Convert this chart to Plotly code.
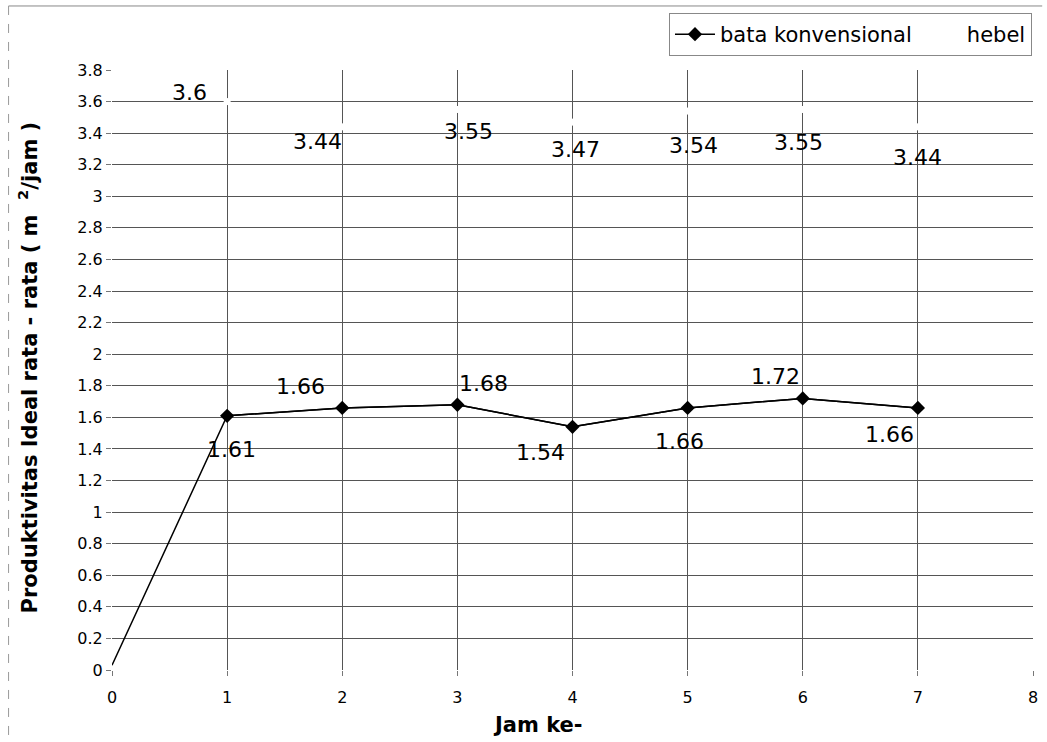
import plotly.graph_objects as go

# ---- data ----
jam = [0, 1, 2, 3, 4, 5, 6, 7]
bata_konvensional = [0.03, 1.61, 1.66, 1.68, 1.54, 1.66, 1.72, 1.66]
jam_hebel = [1, 2, 3, 4, 5, 6, 7]
hebel = [3.6, 3.44, 3.55, 3.47, 3.54, 3.55, 3.44]
x_ticks = [0, 1, 2, 3, 4, 5, 6, 7, 8]
y_ticks = [round(0.2 * i, 1) for i in range(20)]

# ---- label offsets (pixels, styling) ----
bata_label_shift = [(4, -34), (-42, 21), (26, 21), (-32, -26), (-8, -34), (-27, 22), (-28, -27)]
hebel_label_shift = [(-38, 9), (-25, -15), (11, -22), (3, -27), (6, -34), (-4, -33), (0, -31)]

LABEL_FONT = dict(family="DejaVu Sans", size=22, color="black")
TICK_FONT = dict(family="DejaVu Sans", size=16, color="black")
TITLE_FONT = dict(family="DejaVu Sans", size=21, color="black", weight="bold")

fig = go.Figure()

# line from origin (no marker at x=0)
fig.add_trace(go.Scatter(x=jam, y=bata_konvensional, mode="lines",
                         line=dict(color="black", width=1.5),
                         showlegend=False, hoverinfo="skip"))
fig.add_trace(go.Scatter(x=jam[1:], y=bata_konvensional[1:], mode="lines+markers",
                         name="bata konvensional",
                         line=dict(color="black", width=1.5),
                         marker=dict(symbol="diamond", size=11, color="black")))
fig.add_trace(go.Scatter(x=jam_hebel, y=hebel, mode="markers", name="hebel",
                         marker=dict(symbol="square", size=7, color="white")))

ann = []
for xv, yv, (dx, dy) in zip(jam[1:], bata_konvensional[1:], bata_label_shift):
    ann.append(dict(x=xv, y=yv, text=f"{yv:g}", showarrow=False, xshift=dx, yshift=dy,
                    font=LABEL_FONT))
for xv, yv, (dx, dy) in zip(jam_hebel, hebel, hebel_label_shift):
    ann.append(dict(x=xv, y=yv, text=f"{yv:g}", showarrow=False, xshift=dx, yshift=dy,
                    font=LABEL_FONT))
# axis titles
ann.append(dict(xref="paper", yref="paper", x=-0.0907, y=0.505, xanchor="center", yanchor="middle",
                text="Produktivitas Ideal rata - rata ( m  <sup>2</sup>/jam )", textangle=-90,
                showarrow=False, font=TITLE_FONT))
ann.append(dict(xref="paper", yref="paper", x=0.4622, y=-0.092, xanchor="center", yanchor="middle",
                text="Jam ke-", showarrow=False, font=TITLE_FONT))

fig.update_layout(
    width=1047, height=742,
    margin=dict(l=112, r=9, t=70, b=72),
    paper_bgcolor="white", plot_bgcolor="white",
    font=dict(family="DejaVu Sans", color="black"),
    annotations=ann,
    legend=dict(orientation="h", x=0.9989, xanchor="right", y=1.095, yanchor="top",
                bordercolor="#888", borderwidth=1, bgcolor="white",
                font=dict(family="DejaVu Sans", size=21, color="black"),
                itemwidth=40),
    shapes=[
        dict(type="line", xref="paper", yref="paper", x0=-0.1123, x1=1.01, y0=1.1067, y1=1.1067,
             line=dict(color="#888", width=1)),
        dict(type="line", xref="paper", yref="paper", x0=-0.1123, x1=-0.1123, y0=1.1067, y1=-0.13,
             line=dict(color="#999", width=1, dash="dash")),
    ],
)
fig.update_xaxes(range=[0, 8], tickvals=x_ticks, ticktext=[str(v) for v in x_ticks],
                 showgrid=True, gridcolor="#555", gridwidth=1, zeroline=False, showline=False,
                 ticks="outside", ticklen=5, tickcolor="#777", tickfont=TICK_FONT,
                 ticklabelstandoff=8)
fig.update_yaxes(range=[0, 3.8], tickvals=y_ticks, ticktext=[f"{v:g}" for v in y_ticks],
                 showgrid=True, gridcolor="#555", gridwidth=1, zeroline=False, showline=False,
                 ticks="outside", ticklen=5, tickcolor="#777", tickfont=TICK_FONT)

fig.write_html("out.html")
